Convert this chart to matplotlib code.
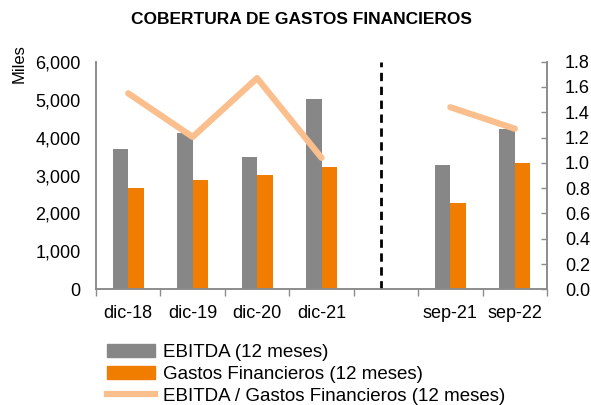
import numpy as np
import matplotlib
matplotlib.use("Agg")
import matplotlib.pyplot as plt
from matplotlib.ticker import FuncFormatter
from matplotlib.patches import Patch
from matplotlib.lines import Line2D

# Data
categories = ["dic-18", "dic-19", "dic-20", "dic-21", "", "sep-21", "sep-22"]
ebitda = [3690, 4130, 3480, 5020, np.nan, 3280, 4230]
gastos = [2670, 2880, 3010, 3220, np.nan, 2270, 3320]
ratio = [1.55, 1.205, 1.67, 1.04, np.nan, 1.44, 1.27]

gray = "#878787"
orange = "#F07D00"
light = "#FBBF8E"
axis_col = "#8C8C8C"

plt.rcParams["font.family"] = ["Liberation Sans", "DejaVu Sans"]
plt.rcParams["font.size"] = 13

fig = plt.figure(figsize=(5.91, 4.05), dpi=100)
ax = fig.add_axes([96 / 591, 1 - 289.3 / 405, (547 - 96) / 591, (289.3 - 61.7) / 405])
ax2 = ax.twinx()

x = np.arange(len(categories))
w = 0.24
ax.bar(x - w / 2, ebitda, w, color=gray, zorder=2)
ax.bar(x + w / 2, gastos, w, color=orange, zorder=2)
ax2.plot(x, ratio, color=light, lw=4.5, solid_capstyle="round", zorder=3)

ax.set_xlim(-0.5, len(categories) - 0.5)
ax.set_ylim(0, 6000)
ax.set_yticks(range(0, 6001, 1000))
ax.yaxis.set_major_formatter(FuncFormatter(lambda v, p: f"{int(v):,}"))
ax2.set_ylim(0, 1.8)
ax2.set_yticks(np.arange(0, 1.81, 0.2))
ax2.yaxis.set_major_formatter(FuncFormatter(lambda v, p: f"{v:.1f}"))

# category labels centered, tick marks on the boundaries
ax.set_xticks(x)
ax.set_xticklabels(categories)
ax.tick_params(axis="x", length=0, pad=11)
ax.set_xticks(np.arange(-0.5, len(categories), 1), minor=True)
ax.tick_params(axis="x", which="minor", length=5, color=axis_col, width=1)

ax.tick_params(axis="y", length=0, pad=11)
ax2.tick_params(axis="y", direction="in", length=4, color=axis_col, width=1, pad=13)

for a in (ax, ax2):
    a.spines["top"].set_visible(False)
    for s in ("left", "right", "bottom"):
        a.spines[s].set_color(axis_col)
        a.spines[s].set_linewidth(1.2)

# separator between annual and interim periods
ax.axvline(3.93, color="black", lw=2, ls=(0, (3, 2)), zorder=4)

fig.text(301 / 591, 1 - 20 / 405, "COBERTURA DE GASTOS FINANCIEROS",
         ha="center", va="center", fontweight="bold", fontsize=12.5)
fig.text(19 / 591, 1 - 64 / 405, "Miles", rotation=90, ha="center", va="center",
         fontsize=12)

handles = [Patch(color=gray), Patch(color=orange), Line2D([], [], color=light, lw=4.5)]
labels = ["EBITDA (12 meses)", "Gastos Financieros (12 meses)",
          "EBITDA / Gastos Financieros (12 meses)"]
fig.legend(handles, labels, loc="upper left", bbox_to_anchor=(107 / 591, 1 - 344 / 405),
           frameon=False, handlelength=2.55, handletextpad=0.42, labelspacing=0.25,
           borderaxespad=0, borderpad=0, fontsize=13.5)

fig.savefig("out.png", dpi=100)
